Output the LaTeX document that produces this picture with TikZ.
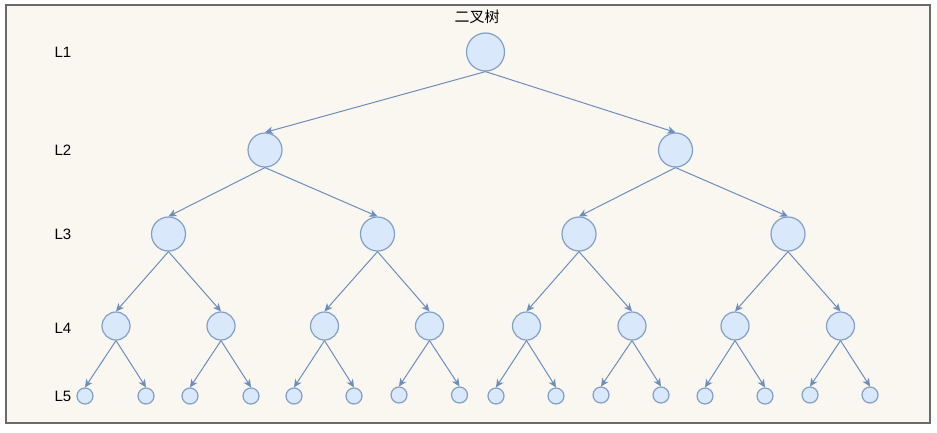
\documentclass[tikz,border=0pt]{standalone}
\usepackage{fontspec}
\setmainfont{Liberation Sans}
\newfontfamily\cjk{Noto Sans CJK SC}
\usetikzlibrary{arrows.meta}
\definecolor{nodefill}{HTML}{DAE8FC}
\definecolor{nodeline}{HTML}{6C8EBF}
\definecolor{paper}{HTML}{F9F7F0}
\definecolor{frameline}{HTML}{6A6A6A}

\begin{document}
\begin{tikzpicture}[
  x=0.75pt, y=-0.75pt,
  node/.style={circle, draw=nodeline!85, fill=nodefill, line width=0.9pt, inner sep=0pt},
  big/.style={node, minimum size=28.5pt},
  mid/.style={node, minimum size=25.5pt},
  small/.style={node, minimum size=21pt},
  leaf/.style={node, minimum size=12pt},
  level/.style={font=\fontsize{11.25}{13}\selectfont, inner sep=0pt},
  arrow/.style={-{Stealth[length=6pt, width=5.6pt, inset=1.8pt]}, draw=nodeline, line width=0.75pt}
]
\useasboundingbox (0,0) rectangle (937,432);
\draw[frameline, fill=paper, line width=1.1pt] (6,5) rectangle (930,423);
\node[level, font=\cjk\fontsize{11.25}{13}\selectfont] (title) at (477,17) {二叉树};
\node[level] (lab1) at (63,52) {L1};
\node[level] (lab2) at (63,150) {L2};
\node[level] (lab3) at (63,234) {L3};
\node[level] (lab4) at (63,328) {L4};
\node[level] (lab5) at (63,396) {L5};
\node[big] (n1) at (485.5,52) {};
\node[mid] (n21) at (265,150) {};
\node[mid] (n22) at (675.5,150) {};
\node[mid] (n31) at (168.5,234) {};
\node[mid] (n32) at (377.5,234) {};
\node[mid] (n33) at (579,234) {};
\node[mid] (n34) at (788,234) {};
\node[small] (n41) at (116,326) {};
\node[small] (n42) at (221,326) {};
\node[small] (n43) at (324.5,326) {};
\node[small] (n44) at (429.5,326) {};
\node[small] (n45) at (526.5,326) {};
\node[small] (n46) at (632,326) {};
\node[small] (n47) at (735,326) {};
\node[small] (n48) at (840.5,326) {};
\node[leaf] (n51) at (85,396) {};
\node[leaf] (n52) at (146,396) {};
\node[leaf] (n53) at (190,396) {};
\node[leaf] (n54) at (251,396) {};
\node[leaf] (n55) at (294,396) {};
\node[leaf] (n56) at (354,396) {};
\node[leaf] (n57) at (399,395) {};
\node[leaf] (n58) at (459.5,395) {};
\node[leaf] (n59) at (496,396) {};
\node[leaf] (n510) at (556,396) {};
\node[leaf] (n511) at (601,395) {};
\node[leaf] (n512) at (661,395) {};
\node[leaf] (n513) at (705,396) {};
\node[leaf] (n514) at (765,396) {};
\node[leaf] (n515) at (810,395) {};
\node[leaf] (n516) at (870,395) {};
\draw[arrow] (n1.south) -- (n21.north);
\draw[arrow] (n1.south) -- (n22.north);
\draw[arrow] (n21.south) -- (n31.north);
\draw[arrow] (n21.south) -- (n32.north);
\draw[arrow] (n22.south) -- (n33.north);
\draw[arrow] (n22.south) -- (n34.north);
\draw[arrow] (n31.south) -- (n41.north);
\draw[arrow] (n31.south) -- (n42.north);
\draw[arrow] (n32.south) -- (n43.north);
\draw[arrow] (n32.south) -- (n44.north);
\draw[arrow] (n33.south) -- (n45.north);
\draw[arrow] (n33.south) -- (n46.north);
\draw[arrow] (n34.south) -- (n47.north);
\draw[arrow] (n34.south) -- (n48.north);
\draw[arrow] (n41.south) -- (n51.north);
\draw[arrow] (n41.south) -- (n52.north);
\draw[arrow] (n42.south) -- (n53.north);
\draw[arrow] (n42.south) -- (n54.north);
\draw[arrow] (n43.south) -- (n55.north);
\draw[arrow] (n43.south) -- (n56.north);
\draw[arrow] (n44.south) -- (n57.north);
\draw[arrow] (n44.south) -- (n58.north);
\draw[arrow] (n45.south) -- (n59.north);
\draw[arrow] (n45.south) -- (n510.north);
\draw[arrow] (n46.south) -- (n511.north);
\draw[arrow] (n46.south) -- (n512.north);
\draw[arrow] (n47.south) -- (n513.north);
\draw[arrow] (n47.south) -- (n514.north);
\draw[arrow] (n48.south) -- (n515.north);
\draw[arrow] (n48.south) -- (n516.north);
\end{tikzpicture}
\end{document}
